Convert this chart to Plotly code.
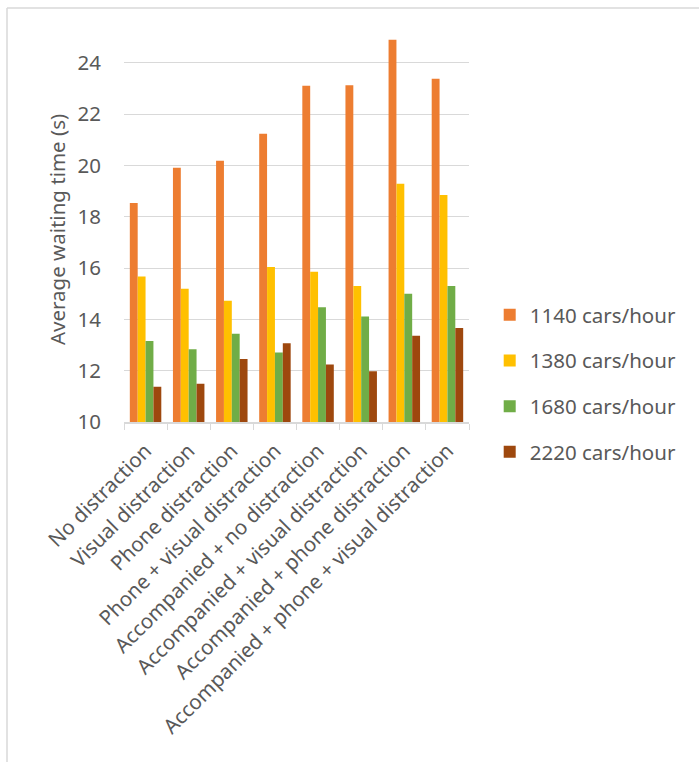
import plotly.graph_objects as go

categories = [
    "No distraction",
    "Visual distraction",
    "Phone distraction",
    "Phone + visual distraction",
    "Accompanied + no distraction",
    "Accompanied + visual distraction",
    "Accompanied + phone distraction",
    "Accompanied + phone + visual distraction",
]
series_names = ["1140 cars/hour", "1380 cars/hour", "1680 cars/hour", "2220 cars/hour"]
wait_1140 = [18.53, 19.91, 20.18, 21.23, 23.10, 23.12, 24.89, 23.37]
wait_1380 = [15.67, 15.19, 14.72, 16.04, 15.85, 15.30, 19.28, 18.84]
wait_1680 = [13.16, 12.83, 13.44, 12.71, 14.47, 14.11, 15.00, 15.30]
wait_2220 = [11.37, 11.49, 12.45, 13.07, 12.24, 11.98, 13.36, 13.66]
y_ticks = [10, 12, 14, 16, 18, 20, 22, 24]

colors = ["#ED7D31", "#FFC000", "#70AD47", "#9E480E"]
text_color = "#595959"
font_family = "Noto Sans, Open Sans, sans-serif"
fs = 20.5

fig = go.Figure()
for name, vals, col in zip(series_names, [wait_1140, wait_1380, wait_1680, wait_2220], colors):
    fig.add_trace(go.Bar(
        x=categories, y=vals, name=name, legendgroup=name,
        marker=dict(color=col, line=dict(width=0)),
    ))

fig.update_layout(
    width=699, height=762,
    margin=dict(l=124, r=230, t=37, b=340, autoexpand=False),
    paper_bgcolor="white", plot_bgcolor="white",
    barmode="group", bargap=0.27, bargroupgap=0,
    font=dict(family=font_family, size=fs, color=text_color),
    showlegend=True,
    legend=dict(
        x=1.06, xanchor="left", y=0.10, yanchor="middle",
        traceorder="grouped", tracegroupgap=16,
        font=dict(size=fs, color=text_color),
        bgcolor="rgba(0,0,0,0)",
    ),
    xaxis=dict(
        tickangle=-45, showgrid=False,
        showline=True, linecolor="#D9D9D9", linewidth=1.5,
        ticks="outside", tickson="boundaries", ticklen=6, tickcolor="#D9D9D9",
        ticklabelstandoff=7,
        tickfont=dict(size=fs, color=text_color),
    ),
    yaxis=dict(
        range=[10, 25], tickvals=y_ticks,
        showgrid=True, gridcolor="#D9D9D9", gridwidth=1.3,
        zeroline=False, showline=False, ticks="",
        ticklabelstandoff=22,
        tickfont=dict(size=fs, color=text_color),
        title=dict(text="Average waiting time (s)", font=dict(size=fs, color=text_color), standoff=6),
    ),
)

# chart frame: top and left edges
fig.add_shape(type="line", xref="paper", yref="paper",
              x0=(7 - 124) / 345, x1=(699 - 124) / 345,
              y0=1 + (37 - 8) / 385, y1=1 + (37 - 8) / 385,
              line=dict(color="#D9D9D9", width=1.5))
fig.add_shape(type="line", xref="paper", yref="paper",
              x0=(7 - 124) / 345, x1=(7 - 124) / 345,
              y0=1 + (37 - 8) / 385, y1=-(762 - 422) / 385,
              line=dict(color="#D9D9D9", width=1.5))

fig.write_html("out.html")
